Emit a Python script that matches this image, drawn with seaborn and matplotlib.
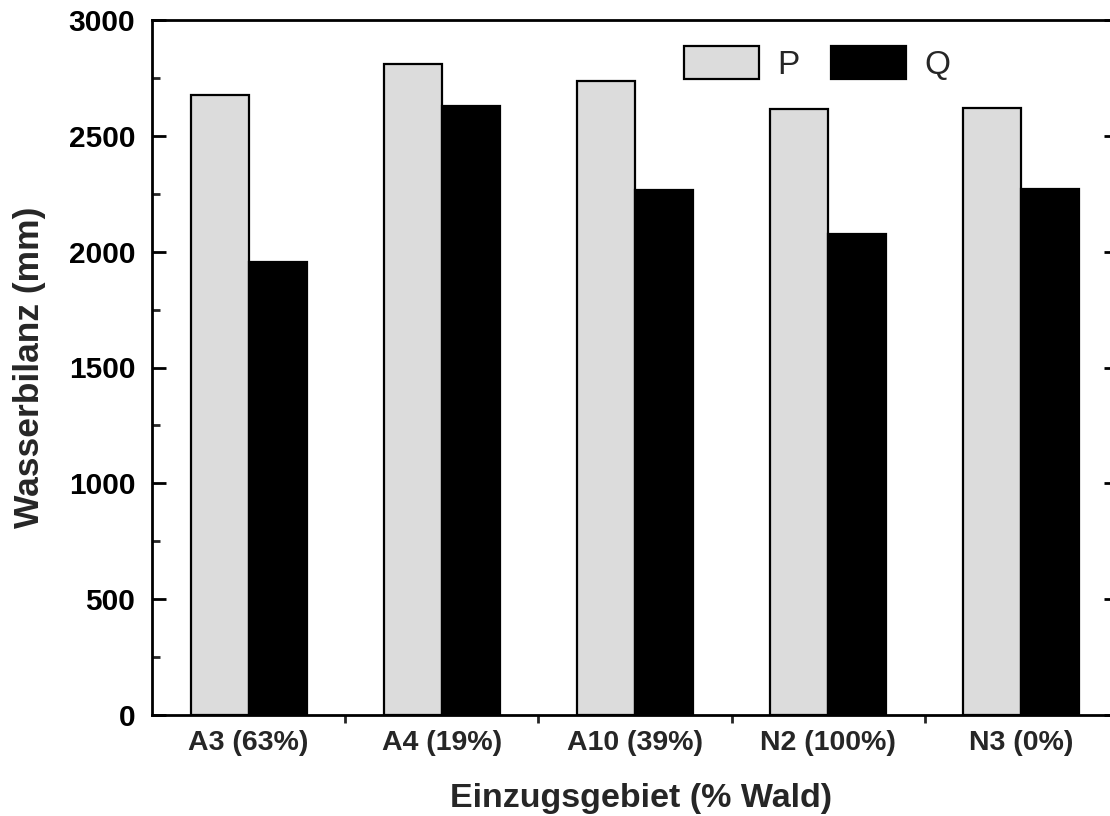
import matplotlib
matplotlib.use("Agg")
import matplotlib.pyplot as plt
import seaborn as sns
import pandas as pd
from matplotlib.ticker import MultipleLocator, FixedLocator
from matplotlib.patches import Patch

categories = ["A3 (63%)", "A4 (19%)", "A10 (39%)", "N2 (100%)", "N3 (0%)"]
p_values = [2675, 2810, 2735, 2615, 2620]
q_values = [1955, 2630, 2265, 2075, 2270]
series = ["P", "Q"]

df = pd.DataFrame({
    "Gebiet": categories * 2,
    "Wert": p_values + q_values,
    "Serie": ["P"] * len(categories) + ["Q"] * len(categories),
})

sns.set_style("ticks")
plt.rcParams["font.family"] = ["Liberation Sans", "DejaVu Sans"]

fig = plt.figure(figsize=(11.10, 8.16), dpi=100)
ax = fig.add_axes([152 / 1110, 1 - 715 / 816, (1118 - 152) / 1110, (715 - 20) / 816])

sns.barplot(data=df, x="Gebiet", y="Wert", hue="Serie", hue_order=series,
            palette={"P": "#dcdcdc", "Q": "#000000"}, width=0.6, gap=0,
            edgecolor="black", linewidth=1.6, ax=ax, legend=False)

ax.set_ylim(0, 3000)
ax.set_xlim(-0.5, len(categories) - 0.5)

for sp in ax.spines.values():
    sp.set_visible(True)
    sp.set_linewidth(2)
    sp.set_color("black")

ax.yaxis.set_major_locator(MultipleLocator(500))
ax.yaxis.set_minor_locator(MultipleLocator(250))
ax.tick_params(axis="y", which="major", direction="in", length=10, width=2,
               left=True, right=True, labelsize=21.5, pad=12, colors="black")
ax.tick_params(axis="y", which="minor", direction="in", length=6, width=2,
               left=True, right=True)
for lab in ax.get_yticklabels():
    lab.set_fontweight("bold")

ax.set_xticks(range(len(categories)))
ax.set_xticklabels(categories, fontsize=20.5, fontweight="bold")
ax.xaxis.set_minor_locator(FixedLocator([i + 0.5 for i in range(len(categories) - 1)]))
ax.tick_params(axis="x", which="major", length=0, pad=11)
ax.tick_params(axis="x", which="minor", direction="out", length=6, width=2)

ax.set_xlabel("Einzugsgebiet (% Wald)", fontsize=24.5, fontweight="bold")
ax.xaxis.set_label_coords(0.506, -0.12, transform=ax.transAxes)
ax.xaxis.label.set_va("center")
ax.set_ylabel("Wasserbilanz (mm)", fontsize=25.5, fontweight="bold", labelpad=16)

handles = [Patch(facecolor="#dcdcdc", edgecolor="black", linewidth=1.6),
           Patch(facecolor="black", edgecolor="black", linewidth=1.6)]
ax.legend(handles, series, ncol=2, frameon=False, fontsize=24,
          handlelength=2.25, handleheight=1.15, columnspacing=0.95, handletextpad=0.55,
          loc="upper left", bbox_to_anchor=((682 - 152) / 966 - 0.012, 1 - 13 / 695),
          borderaxespad=0)

fig.savefig("out.png", dpi=100)
